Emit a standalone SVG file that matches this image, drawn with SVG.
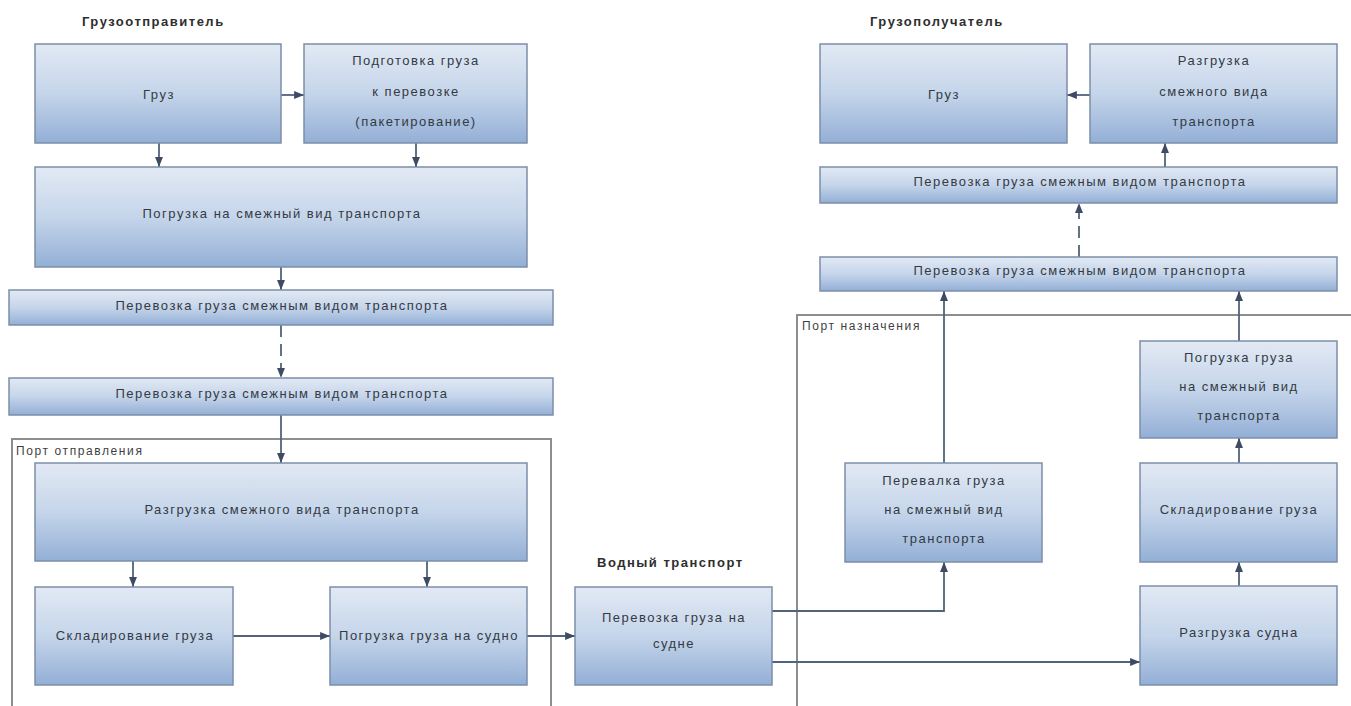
<svg xmlns="http://www.w3.org/2000/svg" width="1351" height="706" viewBox="0 0 1351 706">
<defs>
<linearGradient id="g" x1="0" y1="0" x2="0" y2="1">
<stop offset="0" stop-color="#e2e9f4"/>
<stop offset="0.5" stop-color="#c5d5ea"/>
<stop offset="1" stop-color="#93afd6"/>
</linearGradient>
<marker id="a" viewBox="0 0 10 10" refX="10" refY="5" markerWidth="5.5" markerHeight="5.5" orient="auto" markerUnits="strokeWidth">
<path d="M0,1 L10,5 L0,9 Z" fill="#3d4c63"/>
</marker>
<style>
.b{fill:url(#g);stroke:#7c8ea8;stroke-width:1.5}
.t{font-family:"Liberation Sans",Arial,sans-serif;font-size:13px;fill:#343a44;text-anchor:middle;letter-spacing:1.5px}
.h{font-family:"Liberation Sans",Arial,sans-serif;font-size:13px;font-weight:bold;fill:#2e2e2e;letter-spacing:1.5px}
.p{font-family:"Liberation Sans",Arial,sans-serif;font-size:12px;fill:#3f3f3f;letter-spacing:1.6px}
.c{fill:none;stroke:#52637b;stroke-width:1.8;marker-end:url(#a)}
.d{stroke-dasharray:12,7}
.f{fill:none;stroke:#8a8d92;stroke-width:2}
</style>
</defs>
<rect width="1351" height="706" fill="#ffffff"/>

<g id="frames">
<path class="f" d="M12,720 V439 H551 V720"/>
<path class="f" d="M797,720 V315 H1360"/>
<text class="p" x="16" y="455">Порт отправления</text>
<text class="p" x="802" y="330">Порт назначения</text>
</g>

<g id="titles">
<text class="h" x="82" y="26">Грузоотправитель</text>
<text class="h" x="870" y="26">Грузополучатель</text>
<text class="h" x="597" y="567">Водный транспорт</text>
</g>

<g id="connectors">
<path class="c" d="M281,95 H304"/>
<path class="c" d="M159,143 V167"/>
<path class="c" d="M416,143 V167"/>
<path class="c" d="M281,267 V290"/>
<path class="c d" d="M281,325 V378"/>
<path class="c" d="M281,415 V463"/>
<path class="c" d="M133,561 V587"/>
<path class="c" d="M427,561 V587"/>
<path class="c" d="M233,636 H330"/>
<path class="c" d="M527,636 H575"/>
<path class="c" d="M772,611 H944 V562"/>
<path class="c" d="M772,662 H1140"/>
<path class="c" d="M944,463 V291"/>
<path class="c" d="M1239,586 V562"/>
<path class="c" d="M1239,463 V438"/>
<path class="c" d="M1239,341 V291"/>
<path class="c d" d="M1079,257 V203"/>
<path class="c" d="M1165,167 V143"/>
<path class="c" d="M1090,95 H1067"/>
</g>

<g id="n-gruz-l"><rect class="b" x="35" y="44" width="246" height="99"/><text class="t" x="159" y="99">Груз</text></g>
<g id="n-podgotovka"><rect class="b" x="304" y="44" width="223" height="99"/>
<text class="t" x="416" y="65">Подготовка груза</text>
<text class="t" x="416" y="96">к перевозке</text>
<text class="t" x="416" y="126">(пакетирование)</text></g>
<g id="n-pogruzka"><rect class="b" x="35" y="167" width="492" height="100"/><text class="t" x="282" y="218">Погрузка на смежный вид транспорта</text></g>
<g id="n-perevozka1"><rect class="b" x="9" y="290" width="544" height="35"/><text class="t" x="282" y="310">Перевозка груза смежным видом транспорта</text></g>
<g id="n-perevozka2"><rect class="b" x="9" y="378" width="544" height="37"/><text class="t" x="282" y="398">Перевозка груза смежным видом транспорта</text></g>
<g id="n-razgruzka-l"><rect class="b" x="35" y="463" width="492" height="98"/><text class="t" x="282" y="514">Разгрузка смежного вида транспорта</text></g>
<g id="n-sklad-l"><rect class="b" x="35" y="587" width="198" height="98"/><text class="t" x="135" y="640">Складирование груза</text></g>
<g id="n-pogruzka-sudno"><rect class="b" x="330" y="587" width="197" height="98"/><text class="t" x="429" y="640">Погрузка груза на судно</text></g>
<g id="n-sudno"><rect class="b" x="575" y="587" width="197" height="98"/>
<text class="t" x="674" y="622">Перевозка груза на</text>
<text class="t" x="674" y="648">судне</text></g>

<g id="n-gruz-r"><rect class="b" x="820" y="44" width="247" height="99"/><text class="t" x="944" y="99">Груз</text></g>
<g id="n-razgruzka-r"><rect class="b" x="1090" y="44" width="247" height="99"/>
<text class="t" x="1214" y="65">Разгрузка</text>
<text class="t" x="1214" y="96">смежного вида</text>
<text class="t" x="1214" y="126">транспорта</text></g>
<g id="n-perevozka3"><rect class="b" x="820" y="167" width="517" height="36"/><text class="t" x="1080" y="186">Перевозка груза смежным видом транспорта</text></g>
<g id="n-perevozka4"><rect class="b" x="820" y="257" width="517" height="34"/><text class="t" x="1080" y="275">Перевозка груза смежным видом транспорта</text></g>
<g id="n-pogruzka-r"><rect class="b" x="1140" y="341" width="197" height="97"/>
<text class="t" x="1239" y="362">Погрузка груза</text>
<text class="t" x="1239" y="391">на смежный вид</text>
<text class="t" x="1239" y="420">транспорта</text></g>
<g id="n-perevalka"><rect class="b" x="845" y="463" width="197" height="99"/>
<text class="t" x="944" y="485">Перевалка груза</text>
<text class="t" x="944" y="514">на смежный вид</text>
<text class="t" x="944" y="543">транспорта</text></g>
<g id="n-sklad-r"><rect class="b" x="1140" y="463" width="197" height="99"/><text class="t" x="1239" y="514">Складирование груза</text></g>
<g id="n-razgruzka-sudna"><rect class="b" x="1140" y="586" width="197" height="99"/><text class="t" x="1239" y="637">Разгрузка судна</text></g>
</svg>
